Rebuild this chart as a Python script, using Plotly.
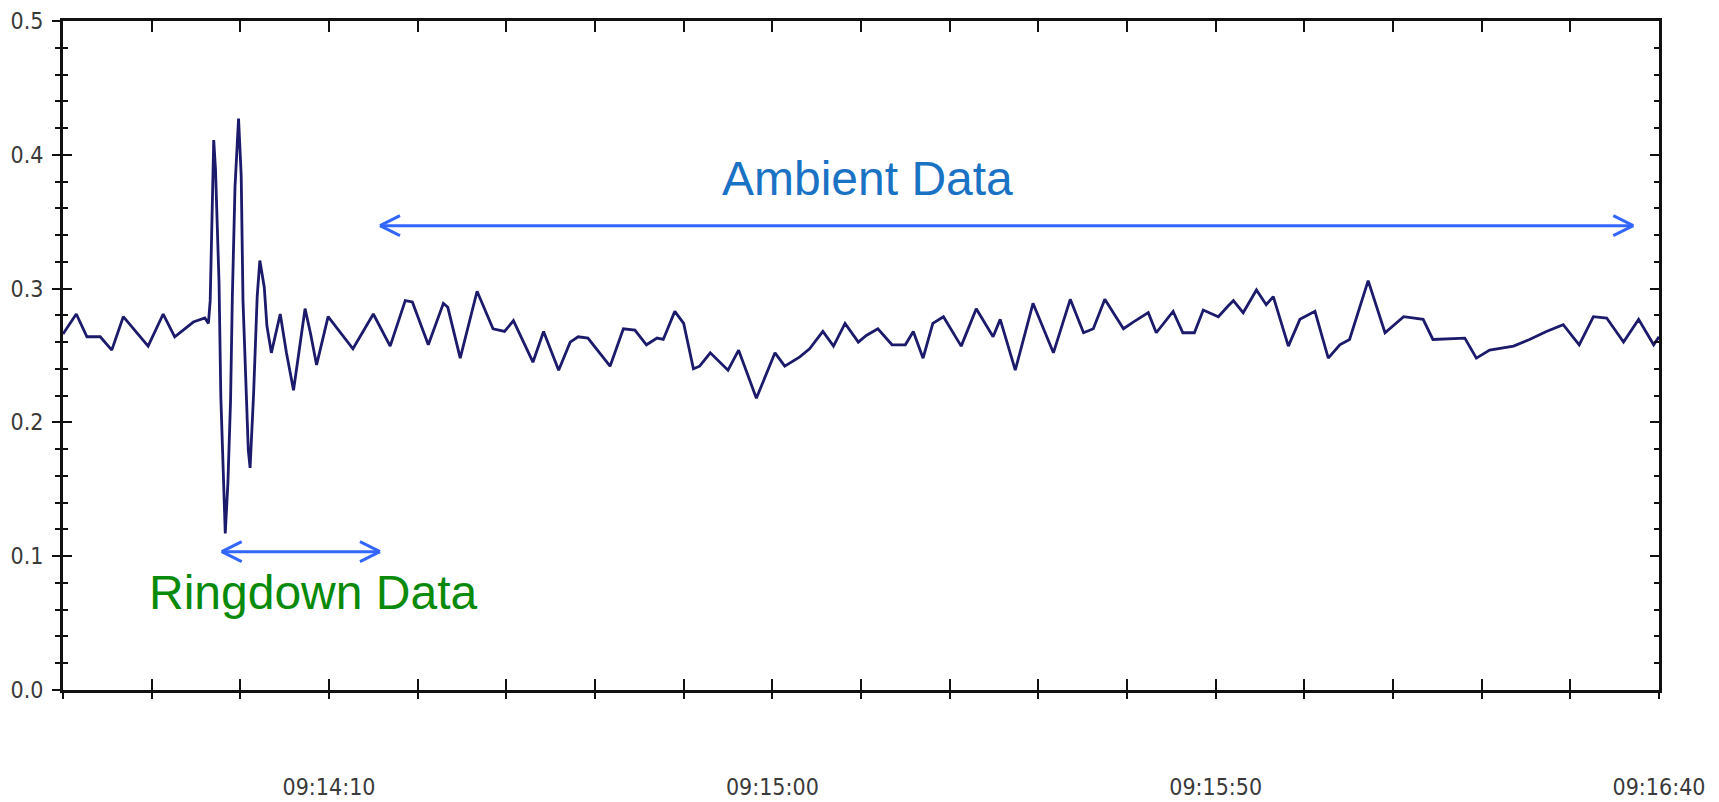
import pandas as pd
import plotly.graph_objects as go

# ---- data (seconds after 09:13:40, value) ----
t0 = pd.Timestamp("2000-01-01 09:13:40")
time_s = [0.0, 1.5, 2.7, 4.2, 5.5, 6.8, 9.6, 11.3, 12.6, 13.6, 14.7, 16.0, 16.4, 16.6, 16.8, 17.0,
          17.2, 17.4, 17.6, 17.8, 18.1, 18.3, 18.6, 18.9, 19.1, 19.4, 19.8, 20.1, 20.3, 20.6, 20.9,
          21.1, 21.5, 21.9, 22.2, 22.7, 23.0, 23.5, 24.5, 25.2, 26.0, 26.6, 27.3, 27.9, 28.6, 29.9,
          32.7, 35.0, 36.9, 38.6, 39.4, 41.2, 42.9, 43.4, 44.8, 46.7, 48.5, 49.8, 50.8, 53.0, 54.2,
          55.9, 57.2, 58.1, 59.2, 61.7, 63.2, 64.5, 65.8, 67.0, 67.7, 69.0, 70.0, 71.1, 71.8, 73.0,
          75.0, 76.2, 78.2, 80.3, 81.4, 83.1, 84.2, 85.7, 86.9, 88.2, 89.7, 90.6, 91.9, 93.5, 95.0,
          95.9, 97.0, 98.1, 99.3, 101.3, 103.0, 104.9, 105.7, 107.4, 109.4, 111.7, 113.6, 115.1,
          116.2, 117.5, 119.6, 120.7, 122.4, 123.3, 125.2, 126.3, 127.6, 128.6, 130.3, 131.4, 132.0,
          133.1, 134.6, 135.7, 136.5, 138.2, 139.5, 141.2, 142.7, 144.0, 145.1, 147.2, 149.1, 151.2,
          153.4, 154.5, 158.1, 159.4, 160.9, 163.6, 165.4, 167.3, 169.2, 171.0, 172.6, 174.1, 176.0,
          177.7, 179.4, 180.0]
values = [0.266, 0.281, 0.264, 0.264, 0.254, 0.279, 0.257, 0.281, 0.264, 0.269, 0.275, 0.278, 0.274,
          0.291, 0.346, 0.411, 0.389, 0.349, 0.304, 0.219, 0.159, 0.117, 0.155, 0.217, 0.294, 0.376,
          0.427, 0.384, 0.291, 0.227, 0.179, 0.166, 0.222, 0.294, 0.321, 0.301, 0.272, 0.252, 0.281,
          0.252, 0.224, 0.252, 0.285, 0.267, 0.243, 0.279, 0.255, 0.281, 0.257, 0.291, 0.290, 0.258,
          0.289, 0.286, 0.248, 0.298, 0.270, 0.268, 0.276, 0.245, 0.268, 0.239, 0.260, 0.264, 0.263,
          0.242, 0.270, 0.269, 0.258, 0.263, 0.262, 0.283, 0.274, 0.240, 0.242, 0.252, 0.239, 0.254,
          0.218, 0.252, 0.242, 0.249, 0.255, 0.268, 0.257, 0.274, 0.260, 0.265, 0.270, 0.258, 0.258,
          0.268, 0.248, 0.274, 0.279, 0.257, 0.285, 0.264, 0.277, 0.239, 0.289, 0.252, 0.292, 0.267,
          0.270, 0.292, 0.270, 0.275, 0.282, 0.267, 0.283, 0.267, 0.267, 0.284, 0.279, 0.287, 0.291,
          0.282, 0.299, 0.288, 0.294, 0.257, 0.277, 0.283, 0.248, 0.258, 0.262, 0.306, 0.267, 0.279,
          0.277, 0.262, 0.263, 0.248, 0.254, 0.257, 0.262, 0.268, 0.273, 0.258, 0.279, 0.278, 0.260,
          0.277, 0.258, 0.264]

tick_seconds = list(range(0, 181, 10))
tick_labels = ["", "", "", "09:14:10", "", "", "", "", "09:15:00", "", "", "", "",
               "09:15:50", "", "", "", "", "09:16:40"]

# annotation anchors (seconds, value)
ambient_arrow = (35.75, 177.1, 0.347)
ringdown_arrow = (17.9, 35.75, 0.1034)
ambient_text = (90.7, 0.382, "Ambient Data")
ringdown_text = (28.25, 0.073, "Ringdown Data")


def ts(s):
    return t0 + pd.to_timedelta(s, unit="s")


x = [ts(s) for s in time_s]
tickvals = [ts(s) for s in tick_seconds]

LINE = "#1c1a6b"
AX = "#111111"
ARROW = "#3366ff"
TICKFONT = dict(family="Liberation Sans Narrow, DejaVu Sans Condensed, Arial Narrow, Arial", size=23,
                color="#3a3a3a")

fig = go.Figure()
fig.add_trace(go.Scatter(x=x, y=values, mode="lines", line=dict(color=LINE, width=2.8),
                         hoverinfo="skip", showlegend=False))
# invisible trace on overlay axes so they render
fig.add_trace(go.Scatter(x=[x[0]], y=[values[0]], xaxis="x2", yaxis="y2", mode="markers",
                         marker=dict(opacity=0), showlegend=False, hoverinfo="skip"))

xrange = [ts(0), ts(180)]
fig.update_layout(
    width=1719, height=802,
    margin=dict(l=63, r=60, t=21, b=112, autoexpand=False),
    paper_bgcolor="white", plot_bgcolor="white",
    showlegend=False,
    xaxis=dict(type="date", range=xrange, tickvals=tickvals, ticktext=tick_labels,
               ticks="outside", ticklen=6, tickwidth=2, tickcolor=AX, automargin=False,
               showline=True, linecolor=AX, linewidth=3, mirror=False, ticklabeloverflow="allow",
               showgrid=False, zeroline=False, tickfont=TICKFONT, ticklabelstandoff=68),
    xaxis2=dict(type="date", overlaying="x", matches="x", anchor="y", side="bottom",
                tickvals=tickvals, ticks="inside", ticklen=11, tickwidth=2, tickcolor=AX,
                showticklabels=False, showline=True, linecolor=AX, linewidth=3, mirror="ticks",
                showgrid=False, zeroline=False, automargin=False),
    yaxis=dict(range=[0, 0.5], dtick=0.1, tick0=0, tickformat=".1f", automargin=False,
               ticks="outside", ticklen=8, tickwidth=2, tickcolor=AX, ticklabeloverflow="allow",
               minor=dict(dtick=0.02, ticks="outside", ticklen=5, tickwidth=2, tickcolor=AX),
               showline=True, linecolor=AX, linewidth=3, mirror=False,
               showgrid=False, zeroline=False, tickfont=TICKFONT, ticklabelstandoff=4),
    yaxis2=dict(range=[0, 0.5], overlaying="y", matches="y", anchor="x", side="left",
                dtick=0.1, tick0=0, ticks="inside", ticklen=9, tickwidth=2, tickcolor=AX,
                minor=dict(dtick=0.02, ticks="inside", ticklen=5, tickwidth=2, tickcolor=AX),
                showticklabels=False, showline=True, linecolor=AX, linewidth=3, mirror="ticks",
                showgrid=False, zeroline=False, automargin=False),
)


def add_double_arrow(s0, s1, yv):
    fig.add_shape(type="line", xref="x", yref="y", x0=ts(s0), x1=ts(s1), y0=yv, y1=yv,
                  line=dict(color=ARROW, width=3))
    for anchor, sign in ((s0, 1), (s1, -1)):
        for dy in (10, -10):
            fig.add_shape(type="line", xref="x", yref="y", xsizemode="pixel", ysizemode="pixel",
                          xanchor=ts(anchor), yanchor=yv, x0=0, y0=0, x1=sign * 20, y1=dy,
                          line=dict(color=ARROW, width=3))


add_double_arrow(*ambient_arrow)
add_double_arrow(*ringdown_arrow)

fig.add_annotation(x=ts(ambient_text[0]), y=ambient_text[1], text=ambient_text[2], showarrow=False,
                   font=dict(family="Liberation Sans, Arial", size=48, color="#1a72c4"),
                   xanchor="center", yanchor="middle")
fig.add_annotation(x=ts(ringdown_text[0]), y=ringdown_text[1], text=ringdown_text[2], showarrow=False,
                   font=dict(family="Liberation Sans, Arial", size=48, color="#0a8a0a"),
                   xanchor="center", yanchor="middle")

# remove the browser's default 8px body margin so the 1719x802 figure fills the window exactly
fig.write_html("out.html", config={"displayModeBar": False},
               post_script="document.body.style.margin='0';document.body.style.overflow='hidden';")
